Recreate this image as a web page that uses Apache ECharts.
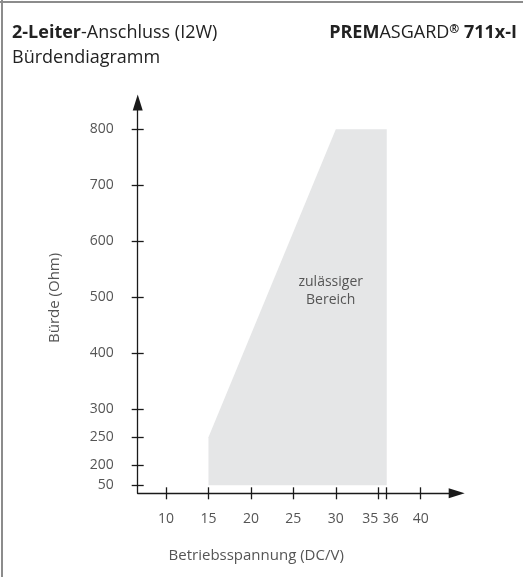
<!DOCTYPE html>
<html>
<head>
<meta charset="utf-8">
<script src="https://cdn.jsdelivr.net/npm/echarts@6/dist/echarts.min.js"></script>
<style>
  html, body { margin: 0; padding: 0; background: #fff; }
  #chart { width: 523px; height: 577px; }
</style>
</head>
<body>
<div id="chart"></div>
<script>
// Betriebsspannung (V) tick values
const voltTicks = [10, 15, 20, 25, 30, 35, 36, 40]
// Bürde (Ohm) tick values
const ohmTicks = [50, 200, 250, 300, 400, 500, 600, 700, 800]
// zulässiger Bereich, polygon corners
const areaVolt = [15, 15, 30, 36, 36]
const areaOhm = [50, 250, 800, 800, 50]

// the y axis is broken below 200 Ohm, the 50..200 part is squeezed
const BREAK = 200
const SQUEEZE = 0.238
const toAxisY = (v) => (v >= BREAK ? v : BREAK - (BREAK - v) * SQUEEZE)

const ohmTickPos = ohmTicks.map(toAxisY)
const areaData = areaVolt.map((v, i) => [v, toAxisY(areaOhm[i])])

const FONT = '"Open Sans"'
const LABEL_COLOR = '#555'
const AXIS_COLOR = '#1a1a1a'

const ohmLabel = (value) => {
  const i = ohmTickPos.findIndex((p) => Math.abs(p - value) < 0.01)
  return i < 0 ? '' : String(ohmTicks[i])
}

const voltLabel = (value) => {
  if (value === 35) return '{l|35}'
  if (value === 36) return '{r|36}'
  return String(value)
}

const xMin = 20 / 3
const xMax = 44.24
const yMin = 150
const yMax = 848

const options = {
  animation: false,
  backgroundColor: '#fff',
  grid: {
    left: 137.7,
    right: 66.3,
    top: 102.5,
    bottom: 83.7,
    containLabel: false
  },
  graphic: [
    {
      type: 'line',
      shape: { x1: 0, y1: 2, x2: 523, y2: 2 },
      style: { stroke: '#8c8c8c', lineWidth: 2 }
    },
    {
      type: 'line',
      shape: { x1: 2, y1: 0, x2: 2, y2: 577 },
      style: { stroke: '#8c8c8c', lineWidth: 2 }
    },
    {
      type: 'text',
      left: 12,
      top: 24,
      style: {
        text: '{b|2-Leiter}-Anschluss (I2W)',
        font: '18px ' + FONT,
        fill: '#222',
        rich: {
          b: { fontFamily: FONT, fontSize: 18, fontWeight: 'bold', color: '#222' }
        }
      }
    },
    {
      type: 'text',
      left: 12,
      top: 49,
      style: {
        text: 'Bürdendiagramm',
        font: '18px ' + FONT,
        fill: '#222'
      }
    },
    {
      type: 'text',
      right: 6,
      top: 24,
      style: {
        text: '{b|PREM}ASGARD{s|®} {b|711x-I}',
        font: '18px ' + FONT,
        fill: '#222',
        rich: {
          b: { fontFamily: FONT, fontSize: 18, fontWeight: 'bold', color: '#222' },
          s: { fontFamily: FONT, fontSize: 12, fontWeight: 'bold', color: '#222', verticalAlign: 'top' }
        }
      }
    }
  ],
  xAxis: [
    {
      type: 'value',
      min: xMin,
      max: xMax,
      name: 'Betriebsspannung (DC/V)',
      nameLocation: 'middle',
      nameGap: 55,
      nameTextStyle: {
        color: LABEL_COLOR,
        fontFamily: FONT,
        fontSize: 15,
        // the name sits left of the axis middle
        padding: [0, 82, 0, 0]
      },
      splitLine: { show: false },
      axisLine: {
        lineStyle: { color: AXIS_COLOR, width: 1.3 },
        symbol: ['none', 'triangle'],
        symbolSize: [10, 16]
      },
      axisTick: {
        length: 6,
        customValues: voltTicks,
        lineStyle: { color: AXIS_COLOR, width: 1.3 }
      },
      axisLabel: {
        customValues: voltTicks,
        margin: 19,
        color: LABEL_COLOR,
        fontFamily: FONT,
        fontSize: 14,
        formatter: voltLabel,
        rich: {
          l: { color: LABEL_COLOR, fontFamily: FONT, fontSize: 14, padding: [0, 16, 0, 0] },
          r: { color: LABEL_COLOR, fontFamily: FONT, fontSize: 14, padding: [0, 0, 0, 8] }
        }
      }
    },
    {
      // second axis only for the inner half of the crossing ticks
      type: 'value',
      min: xMin,
      max: xMax,
      position: 'bottom',
      splitLine: { show: false },
      axisLine: { show: false },
      axisLabel: { show: false },
      axisTick: {
        inside: true,
        length: 6,
        customValues: voltTicks,
        lineStyle: { color: AXIS_COLOR, width: 1.3 }
      }
    }
  ],
  yAxis: [
    {
      type: 'value',
      min: yMin,
      max: yMax,
      name: 'Bürde (Ohm)',
      nameLocation: 'middle',
      nameGap: 75,
      nameTextStyle: { color: LABEL_COLOR, fontFamily: FONT, fontSize: 15 },
      splitLine: { show: false },
      axisLine: {
        lineStyle: { color: AXIS_COLOR, width: 1.3 },
        symbol: ['none', 'triangle'],
        symbolSize: [10, 16]
      },
      axisTick: {
        length: 6,
        customValues: ohmTickPos,
        lineStyle: { color: AXIS_COLOR, width: 1.3 }
      },
      axisLabel: {
        customValues: ohmTickPos,
        margin: 24,
        color: LABEL_COLOR,
        fontFamily: FONT,
        fontSize: 14,
        formatter: ohmLabel
      }
    },
    {
      type: 'value',
      min: yMin,
      max: yMax,
      position: 'left',
      splitLine: { show: false },
      axisLine: { show: false },
      axisLabel: { show: false },
      axisTick: {
        inside: true,
        length: 6,
        customValues: ohmTickPos,
        lineStyle: { color: AXIS_COLOR, width: 1.3 }
      }
    }
  ],
  series: [
    {
      name: 'zulässiger Bereich',
      type: 'custom',
      xAxisIndex: 0,
      yAxisIndex: 0,
      z: 1,
      data: [0],
      renderItem: function (params, api) {
        const points = areaData.map((p) => api.coord(p))
        const mid = api.coord([29.4, 511])
        return {
          type: 'group',
          children: [
            {
              type: 'polygon',
              shape: { points: points },
              style: { fill: '#e5e6e7' }
            },
            {
              type: 'text',
              x: mid[0],
              y: mid[1],
              style: {
                text: 'zulässiger\nBereich',
                align: 'center',
                verticalAlign: 'middle',
                lineHeight: 18,
                font: '14px ' + FONT,
                fill: LABEL_COLOR
              }
            }
          ]
        }
      }
    }
  ]
}

const chart = echarts.init(document.getElementById('chart'))
chart.setOption(options)
window.addEventListener('resize', function () {
  chart.resize()
})
</script>
</body>
</html>
